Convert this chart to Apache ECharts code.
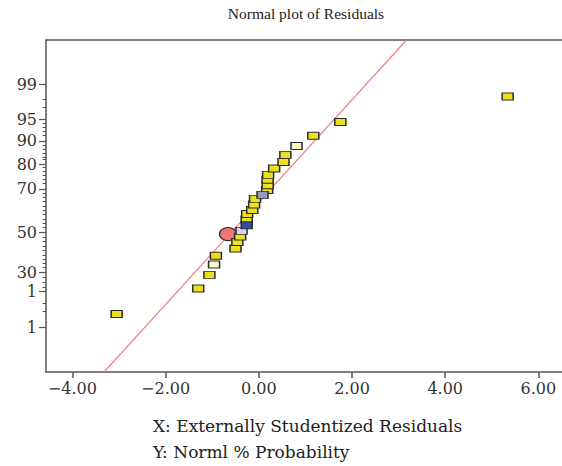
<!DOCTYPE html>
<html>
<head>
<meta charset="utf-8">
<script src="https://cdn.jsdelivr.net/npm/echarts@6/dist/echarts.min.js"></script>
<style>
  html, body { margin: 0; padding: 0; background: #fff; }
  #main { width: 562px; height: 466px; }
</style>
</head>
<body>
<div id="main"></div>
<script>
// residuals (x) against normal score (y, 0 = 50 %)
var yellowX = [-3.05, -1.30, -1.06, -0.92, -0.50, -0.46, -0.40, -0.26, -0.25, -0.14, -0.10, -0.08,
               0.18, 0.19, 0.19, 0.20, 0.33, 0.53, 0.57, 1.17, 1.75, 5.34];
var yellowY = [-1.02, -0.70, -0.53, -0.29, -0.20, -0.12, -0.05, 0.16, 0.23, 0.28, 0.35, 0.42,
               0.53, 0.59, 0.66, 0.72, 0.80, 0.88, 0.97, 1.21, 1.38, 1.70];
var paleX = [-0.96, 0.81];
var paleY = [-0.40, 1.08];
var lavenderX = [0.08];
var lavenderY = [0.47];
var lightLavX = [-0.37];
var lightLavY = [0.02];
var blueX = [-0.26];
var blueY = [0.09];
var circleX = [-0.66];
var circleY = [-0.02];

// fitted normal line
var fitX = [-3.32, 3.17];
var fitY = [-1.744, 2.406];

var xTicks = [-4, -2, 0, 2, 4, 6];
var yTickVals = [1.85, 1.415, 1.144, 0.856, 0.544, 0, -0.497, -0.74, -1.19];
var yTickLabels = ['99', '95', '90', '80', '70', '50', '30', '1', '1'];
var yMinorVals = [1.67, 1.57, 1.36, 1.31, 1.26, 1.21, 1.09, 1.04, 0.99, 0.94, 0.91, 0.81, 0.76,
                  0.71, 0.66, 0.61, 0.49, 0.44, 0.39, 0.33, 0.28, 0.23, 0.17, 0.12, 0.06, -0.06,
                  -0.11, -0.17, -0.22, -0.28, -0.33, -0.38, -0.44, -0.56, -0.62, -0.68, -0.88, -0.99];

function pairs(xs, ys) {
  return xs.map(function (v, i) { return [v, ys[i]]; });
}

var font = 'DejaVu Serif';
var axisCol = '#555';

var chart = echarts.init(document.getElementById('main'), null, { renderer: 'svg' });

function rectSeries(name, xs, ys, fill) {
  return {
    name: name,
    type: 'scatter',
    symbol: 'rect',
    symbolSize: [11, 7],
    data: pairs(xs, ys),
    itemStyle: { color: fill, borderColor: '#2a2a2a', borderWidth: 1.2, opacity: 1 },
    z: 3
  };
}

var option = {
  animation: false,
  grid: { left: 46, top: 40, right: 0, bottom: 94 },
  xAxis: [{
    type: 'value',
    min: -4.566,
    max: 6.506,
    axisLine: { show: true, onZero: false, lineStyle: { color: axisCol, width: 1.5 } },
    axisTick: { show: true, customValues: xTicks, length: 6, lineStyle: { color: axisCol, width: 1.5 } },
    axisLabel: {
      customValues: xTicks,
      margin: 8,
      fontFamily: font,
      fontSize: 16,
      color: '#333',
      formatter: function (v) {
        return (v < 0 ? '\u2212' : '') + Math.abs(v).toFixed(2);
      }
    },
    splitLine: { show: false }
  }, {
    type: 'value',
    position: 'top',
    min: -4.566,
    max: 6.506,
    axisLine: { show: true, onZero: false, lineStyle: { color: axisCol, width: 1.5 } },
    axisTick: { show: false },
    axisLabel: { show: false },
    splitLine: { show: false }
  }],
  yAxis: [{
    type: 'value',
    min: -1.744,
    max: 2.406,
    axisLine: { show: true, onZero: false, lineStyle: { color: axisCol, width: 1.5 } },
    axisTick: { show: true, customValues: yTickVals, length: 7, lineStyle: { color: axisCol, width: 1.2 } },
    axisLabel: {
      customValues: yTickVals,
      margin: 9,
      fontFamily: font,
      fontSize: 16,
      color: '#333',
      formatter: function (v) {
        var best = 0;
        for (var i = 1; i < yTickVals.length; i++) {
          if (Math.abs(yTickVals[i] - v) < Math.abs(yTickVals[best] - v)) best = i;
        }
        return yTickLabels[best];
      }
    },
    splitLine: { show: false }
  }, {
    type: 'value',
    position: 'left',
    min: -1.744,
    max: 2.406,
    axisLine: { show: false, onZero: false },
    axisTick: { show: true, customValues: yMinorVals, length: 3.5, lineStyle: { color: axisCol, width: 1 } },
    axisLabel: { show: false },
    splitLine: { show: false }
  }],
  series: [
    {
      type: 'line',
      data: pairs(fitX, fitY),
      showSymbol: false,
      lineStyle: { color: '#f08080', width: 1.2 },
      z: 1
    },
    {
      name: 'circle',
      type: 'scatter',
      symbol: 'circle',
      symbolSize: [17, 13],
      data: pairs(circleX, circleY),
      itemStyle: { color: '#f07575', borderColor: '#2a2a2a', borderWidth: 1.2, opacity: 1 },
      z: 2
    },
    rectSeries('yellow', yellowX, yellowY, '#ece11c'),
    rectSeries('pale', paleX, paleY, '#fcf6c6'),
    rectSeries('lavender', lavenderX, lavenderY, '#9898c2'),
    rectSeries('lightLav', lightLavX, lightLavY, '#d8d8ec'),
    rectSeries('blue', blueX, blueY, '#2f4f9e')
  ],
  graphic: [
    {
      type: 'text', x: 306, y: 13,
      style: { text: 'Normal plot of Residuals', font: '15.5px "Liberation Serif"', fill: '#222',
               textAlign: 'center', textVerticalAlign: 'middle' }
    },
    {
      type: 'text', x: 153, y: 426,
      style: { text: 'X: Externally Studentized Residuals', font: '17px "DejaVu Serif"', fill: '#222',
               textAlign: 'left', textVerticalAlign: 'middle' }
    },
    {
      type: 'text', x: 153, y: 452,
      style: { text: 'Y: Norml % Probability', font: '17px "DejaVu Serif"', fill: '#222',
               textAlign: 'left', textVerticalAlign: 'middle' }
    }
  ]
};

chart.setOption(option);
</script>
</body>
</html>
